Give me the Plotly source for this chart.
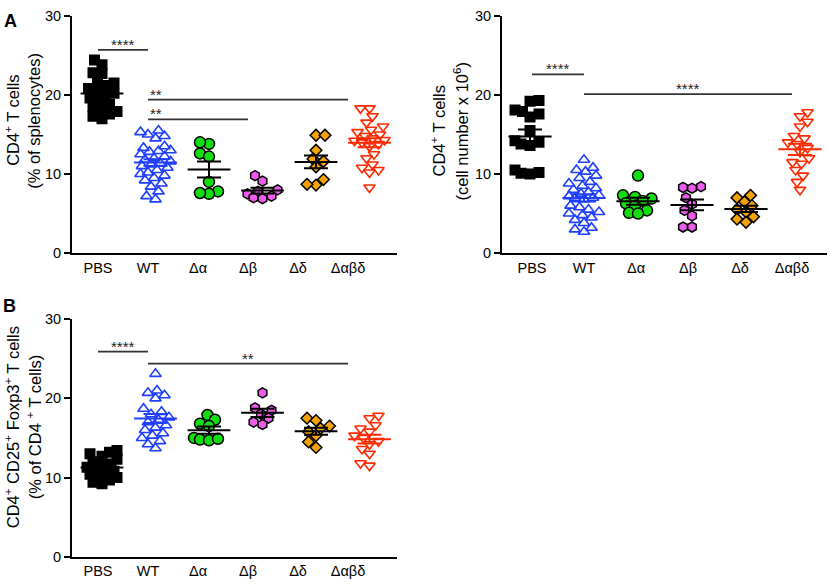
import math
import numpy as np
import plotly.graph_objects as go

# ---------------- data ----------------
categories = ["PBS", "WT", "Δα", "Δβ", "Δδ", "Δαβδ"]

# Panel A (left): CD4+ T cells, % of splenocytes
a1_pbs = [24.4, 23.8, 22.7, 22.8, 21.8, 21.5, 21.2, 20.8, 20.5, 20.2, 20.0, 19.6, 19.2, 18.8, 18.5, 18.2, 17.9, 17.6, 17.3, 17.0]
a1_wt = [15.5, 15.3, 15.0, 14.8, 14.5, 13.3, 12.9, 13.5, 13.0, 12.8, 12.5, 12.2, 12.0, 11.8, 11.6, 11.4, 11.2, 11.0, 10.8, 10.5,
         10.2, 10.0, 9.8, 9.5, 9.2, 8.8, 8.4, 7.8, 7.2, 6.8]
a1_da = [13.8, 14.0, 12.6, 12.2, 9.0, 7.8, 7.5, 7.6]
a1_db = [9.8, 9.1, 8.0, 7.8, 7.5, 7.2, 7.0, 6.9]
a1_dd = [14.9, 14.9, 13.0, 11.9, 11.6, 10.9, 9.3, 8.6, 8.7]
a1_dabd = [18.3, 18.3, 17.3, 16.5, 16.0, 15.6, 15.3, 15.0, 14.8, 14.5, 14.3, 14.0, 13.8, 13.5, 12.5, 12.0, 11.2, 10.8,
           10.5, 10.2, 8.3, 14.2]

# Panel A (right): CD4+ T cells, cell number x 10^6
a2_pbs = [19.3, 19.2, 18.1, 17.9, 17.2, 17.6, 15.5, 14.2, 13.8, 14.0, 13.6, 10.5, 10.2, 10.0, 10.1]
a2_wt = [11.8, 10.8, 10.5, 10.3, 9.8, 9.5, 9.0, 8.8, 8.5, 8.2, 8.0, 7.7, 7.5, 7.2, 7.0, 6.8, 7.3, 7.0, 6.0, 5.8,
         5.5, 5.2, 5.0, 4.8, 4.5, 4.2, 3.8, 3.2, 3.0, 2.7]
a2_da = [9.8, 7.3, 7.1, 6.9, 6.6, 6.3, 6.0, 5.4, 5.1, 5.0]
a2_db = [8.4, 8.3, 8.2, 7.0, 6.2, 5.4, 4.7, 3.3, 3.3]
a2_dd = [7.3, 7.0, 6.5, 6.0, 5.5, 5.2, 4.6, 4.3, 3.9]
a2_dabd = [17.8, 17.3, 16.6, 16.0, 14.0, 14.8, 14.5, 13.8, 13.3, 12.8, 12.0, 11.3, 10.5, 9.8, 9.0, 8.0, 11.5]

# Panel B: CD4+ CD25+ Foxp3+ T cells, % of CD4+ T cells
b_pbs = [13.4, 13.2, 13.0, 12.7, 12.3, 12.0, 11.7, 11.3, 11.0, 10.7, 10.4, 10.2, 10.0, 9.7, 9.4, 9.2, 11.5, 10.8]
b_wt = [23.1, 21.0, 20.7, 20.4, 20.0, 18.7, 18.3, 18.0, 17.6, 17.3, 17.0, 16.6, 16.3, 16.0, 15.6, 15.3, 15.0, 14.6,
        14.2, 13.7]
b_da = [17.9, 17.3, 16.8, 16.5, 15.0, 14.8, 14.7, 14.9]
b_db = [20.7, 18.8, 18.5, 18.0, 17.5, 17.0, 16.7]
b_dd = [17.5, 17.2, 16.5, 16.2, 15.8, 15.3, 14.5, 13.8]
b_dabd = [17.8, 17.5, 16.6, 16.2, 15.8, 15.3, 15.0, 14.6, 14.2, 13.6, 13.0, 11.8, 11.5]

# significance brackets: (from group, to group, y level, label, text placement)
brackets_a1 = [(0, 1, 25.7, "****", "center"), (1, 5, 19.4, "**", "left"), (1, 3, 16.9, "**", "left")]
brackets_a2 = [(0, 1, 22.6, "****", "center"), (1, 5, 20.1, "****", "center")]
brackets_b = [(0, 1, 25.9, "****", "center"), (1, 5, 24.4, "**", "center")]

# ---------------- styles ----------------
W, H = 829, 587
FONT = "Liberation Sans"
styles = [
    dict(symbol="square", size=11, color="#000000", line=dict(color="#000000", width=0)),
    dict(symbol="triangle-up-open", size=10, color="#1f3fff", line=dict(color="#1f3fff", width=1.6)),
    dict(symbol="circle", size=11, color="#11dd11", line=dict(color="#000000", width=1.5)),
    dict(symbol="hexagon", size=10, color="#ee5cee", line=dict(color="#000000", width=1.5)),
    dict(symbol="diamond", size=9, color="#f5a300", line=dict(color="#000000", width=1.5)),
    dict(symbol="triangle-down-open", size=10, color="#ff2a00", line=dict(color="#ff2a00", width=1.6)),
]
mean_colors = ["#000000", "#1f3fff", "#000000", "#000000", "#000000", "#ff2a00"]


def px_x(p):
    return p / W


def px_y(p):
    return 1 - p / H


def swarm(values, ppu_x, ppu_y, dmin=8.5, maxoff=16.0, step=1.5):
    order = sorted(range(len(values)), key=lambda i: values[i])
    placed = []
    off = [0.0] * len(values)
    for n, i in enumerate(order):
        y = values[i] * ppu_y
        sgn = 1 if n % 2 == 0 else -1
        cands = [0.0]
        k = 1
        while k * step <= maxoff:
            cands += [sgn * k * step, -sgn * k * step]
            k += 1
        bestc, bestd = 0.0, -1.0
        for c in cands:
            d = min((math.hypot(c - px, y - py) for px, py in placed), default=1e9)
            if d >= dmin:
                bestc, bestd = c, d
                break
            if d > bestd:
                bestc, bestd = c, d
        placed.append((bestc, y))
        off[i] = bestc / ppu_x
    return off


fig = go.Figure()

panels = [
    dict(groups=[a1_pbs, a1_wt, a1_da, a1_db, a1_dd, a1_dabd], brackets=brackets_a1,
         xdom=(72, 397), ydom=(8, 252), first=102, spacing=53.5, lab_first=98, lab_spacing=50,
         titles=["CD4<sup>+</sup> T cells", "(% of splenocytes)"], tx=(12, 34), ty=116),
    dict(groups=[a2_pbs, a2_wt, a2_da, a2_db, a2_dd, a2_dabd], brackets=brackets_a2,
         xdom=(502, 827), ydom=(8, 252), first=530, spacing=54, lab_first=532, lab_spacing=52,
         titles=["CD4<sup>+</sup> T cells", "(cell number x 10<sup>6</sup>)"], tx=(438, 461), ty=127),
    dict(groups=[b_pbs, b_wt, b_da, b_db, b_dd, b_dabd], brackets=brackets_b,
         xdom=(72, 397), ydom=(320, 564), first=102, spacing=53.5, lab_first=98, lab_spacing=50,
         titles=["CD4<sup>+</sup> CD25<sup>+</sup> Foxp3<sup>+</sup> T cells", "(% of CD4 <sup>+</sup> T cells)"],
         tx=(12, 34), ty=431),
]

annotations = []
for pi, p in enumerate(panels):
    ax = "" if pi == 0 else str(pi + 1)
    xref, yref = "x" + ax, "y" + ax
    x0px, x1px = p["xdom"]
    ytop, ybot = p["ydom"]
    ppu_x = p["spacing"]
    ppu_y = (ybot - ytop) / 30.0
    xr = [(x0px - p["first"]) / ppu_x, (x1px - p["first"]) / ppu_x]
    labpos = [(p["lab_first"] - p["first"]) / ppu_x + i * p["lab_spacing"] / ppu_x for i in range(len(categories))]

    for gi, vals in enumerate(p["groups"]):
        offs = swarm(vals, ppu_x, ppu_y)
        st = styles[gi]
        fig.add_trace(go.Scatter(
            x=[gi + o for o in offs], y=vals, mode="markers", xaxis=xref, yaxis=yref,
            marker=dict(symbol=st["symbol"], size=st["size"], color=st["color"], line=st["line"]),
            showlegend=False, hoverinfo="y", name=categories[gi]))
    for gi, vals in enumerate(p["groups"]):
        arr = np.array(vals, dtype=float)
        m = arr.mean()
        sem = arr.std(ddof=1) / math.sqrt(len(arr))
        c = mean_colors[gi]
        fig.add_trace(go.Scatter(x=[gi - 0.4, gi + 0.4], y=[m, m], mode="lines", xaxis=xref, yaxis=yref,
                                 line=dict(color=c, width=2), showlegend=False, hoverinfo="skip"))
        fig.add_trace(go.Scatter(x=[gi], y=[m], mode="markers", xaxis=xref, yaxis=yref,
                                 marker=dict(size=1, color="rgba(0,0,0,0)"),
                                 error_y=dict(type="data", array=[sem], visible=True, color=c, thickness=2, width=12),
                                 showlegend=False, hoverinfo="skip"))
    for (ga, gb, yl, lab, place) in p["brackets"]:
        xa, xb = labpos[ga], labpos[gb]
        fig.add_trace(go.Scatter(x=[xa, xb], y=[yl, yl], mode="lines", xaxis=xref, yaxis=yref,
                                 line=dict(color="#333333", width=1.8), showlegend=False, hoverinfo="skip"))
        annotations.append(dict(
            x=(xa if place == "left" else (xa + xb) / 2), y=yl, xref=xref, yref=yref,
            text=lab, showarrow=False, xanchor=("left" if place == "left" else "center"), yanchor="bottom",
            yshift=-5, font=dict(family=FONT, size=15, color="#222222")))

    for li, t in enumerate(p["titles"]):
        annotations.append(dict(x=px_x(p["tx"][li]), y=px_y(p["ty"]), xref="paper", yref="paper", text=t,
                                showarrow=False, textangle=-90, xanchor="center", yanchor="middle",
                                font=dict(family=FONT, size=16.5, color="#000000")))

    xaxis = dict(domain=[px_x(x0px), px_x(x1px)], range=xr, tickvals=labpos, ticktext=categories,
                 ticks="", ticklen=0, showline=True, linecolor="#000000", linewidth=2,
                 showgrid=False, zeroline=False,
                 tickfont=dict(family=FONT, size=14.5, color="#000000"), anchor=yref, fixedrange=True)
    yaxis = dict(domain=[px_y(ybot), px_y(ytop)], range=[0, 30], tickvals=[0, 10, 20, 30],
                 ticks="outside", ticklen=6, tickwidth=2, tickcolor="#000000", showline=True,
                 linecolor="#000000", linewidth=2, showgrid=False, zeroline=False,
                 tickfont=dict(family=FONT, size=14.5, color="#000000"), anchor=xref, fixedrange=True)
    fig.update_layout(**{"xaxis" + ax: xaxis, "yaxis" + ax: yaxis})

annotations.append(dict(x=px_x(10), y=px_y(13), xref="paper", yref="paper", text="<b>A</b>", showarrow=False,
                        xanchor="center", yanchor="middle", font=dict(family=FONT, size=18, color="#000000")))
annotations.append(dict(x=px_x(9), y=px_y(306), xref="paper", yref="paper", text="<b>B</b>", showarrow=False,
                        xanchor="center", yanchor="middle", font=dict(family=FONT, size=18, color="#000000")))

fig.update_layout(width=W, height=H, margin=dict(l=0, r=0, t=0, b=0), plot_bgcolor="white",
                  paper_bgcolor="white", annotations=annotations, showlegend=False)

fig.write_html("out.html", config={"displayModeBar": False},
               post_script="document.body.style.margin='0px';document.body.style.overflow='hidden';")
